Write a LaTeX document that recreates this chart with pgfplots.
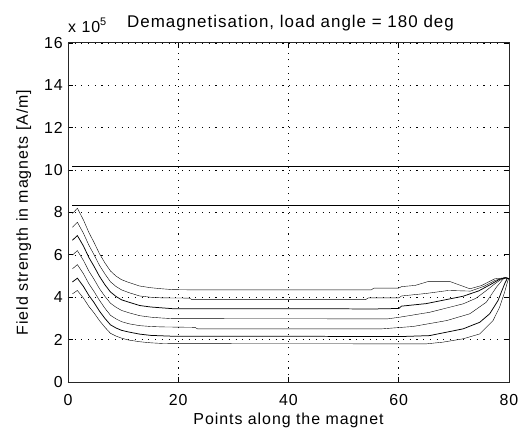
\documentclass[border=0pt]{standalone}
\usepackage{fontspec}
\setmainfont{Liberation Sans}[LetterSpace=6]
\usepackage{pgfplots}
\pgfplotsset{compat=1.18}
\begin{document}
\fontsize{16}{19}\selectfont
\begin{tikzpicture}
\path[use as bounding box] (-68bp,-48bp) rectangle (450bp,382bp);
\begin{axis}[
  at={(0,0)}, anchor=south west,
  width=441bp, height=339bp, scale only axis,
  clip=false,
  xmin=0, xmax=80, ymin=0, ymax=16,
  xtick={0,20,40,60,80}, ytick={0,2,4,6,8,10,12,14,16},
  grid=major,
  major grid style={black, line width=0.6pt, dash pattern=on 1.1bp off 5.6bp},
  tick align=inside, major tick length=5bp,
  axis line style={line width=1pt, black!85},
  every tick/.style={black, line width=0.8pt},
  /pgf/number format/assume math mode=true,
  tick label style={font=\fontsize{16}{19}\selectfont},
  xticklabel style={anchor=base, yshift=-23bp, inner sep=0pt},
  yticklabel style={anchor=east, xshift=-5bp, inner sep=0pt},
  xlabel={Points along the magnet},
  xlabel style={at={(axis description cs:0.5,0)}, anchor=base, yshift=-42bp, inner sep=0pt},
  ylabel={Field strength in magnets [A/m]},
  ylabel style={at={(axis description cs:-0.083,0.5)}, anchor=south, rotate=0, inner sep=0pt},
  title={Demagnetisation, load angle = 180 deg},
  title style={at={(axis description cs:0.5,1)}, anchor=base, yshift=10bp, inner sep=0pt, xshift=2bp, font=\fontsize{17}{20}\selectfont},
  cycle list={{black, line width=0.75pt, mark=none}},
]
\addplot coordinates {(0.8,10.19)(80,10.19)};
\addplot coordinates {(0.8,8.35)(80,8.35)};
\addplot coordinates {(0.8,7.95)(1.7,8.20)(2.8,7.65)(3.8,7.05)(4.7,6.60)(5.7,6.06)(6.7,5.62)(7.7,5.24)(8.7,5.00)(9.7,4.83)(11,4.70)(13,4.53)(15,4.45)(17,4.40)(19,4.36)(22,4.35)(55,4.35)(55.5,4.43)(60,4.43)(60.5,4.50)(63,4.56)(65.3,4.74)(69.3,4.74)(72.9,4.40)(75,4.55)(77.4,4.87)(79.3,4.92)(80,4.88)};
\addplot coordinates {(0.8,7.30)(1.7,7.54)(2.8,7.02)(3.8,6.45)(4.7,6.02)(5.7,5.51)(6.7,5.10)(7.7,4.73)(8.7,4.51)(9.7,4.35)(11,4.22)(13,4.06)(15,4.00)(17,3.97)(22,3.96)(22.5,3.89)(54,3.89)(54.5,3.97)(60,3.97)(60.5,4.06)(65,4.18)(69,4.32)(73,4.29)(75.5,4.52)(77.5,4.80)(79.3,4.92)(80,4.88)};
\addplot coordinates {(0.8,6.69)(1.7,6.91)(2.8,6.42)(3.8,5.87)(4.7,5.47)(5.7,4.99)(6.7,4.59)(7.7,4.25)(8.7,4.04)(9.7,3.88)(11,3.77)(13,3.61)(15,3.54)(17,3.50)(19,3.46)(56,3.45)(60,3.47)(60.5,3.58)(65,3.70)(71.7,4.05)(74.5,4.30)(76.5,4.58)(78.3,4.85)(79.3,4.92)(80,4.88)};
\addplot coordinates {(0.8,5.99)(1.7,6.20)(2.8,5.74)(3.8,5.23)(4.7,4.86)(5.7,4.41)(6.7,4.04)(7.7,3.72)(8.7,3.53)(9.7,3.38)(11,3.27)(13,3.13)(15,3.06)(17,3.02)(19,2.99)(58,2.98)(60.2,3.06)(65.6,3.29)(71.7,3.69)(74,3.95)(75.9,4.32)(77.5,4.65)(78.8,4.88)(79.4,4.92)(80,4.88)};
\addplot coordinates {(0.8,5.34)(1.7,5.54)(2.8,5.11)(3.8,4.63)(4.7,4.28)(5.7,3.86)(6.7,3.48)(7.7,3.15)(8.7,2.98)(9.7,2.85)(11,2.75)(13,2.66)(15,2.62)(17,2.60)(23,2.58)(23.5,2.51)(57,2.51)(62.6,2.62)(68.7,2.90)(72.9,3.22)(75.9,3.77)(77.7,4.47)(78.9,4.85)(79.5,4.92)(80,4.88)};
\addplot coordinates {(0.8,4.72)(1.7,4.90)(2.8,4.51)(3.8,4.08)(4.7,3.76)(5.7,3.35)(6.7,3.00)(7.7,2.70)(8.7,2.55)(9.7,2.44)(11,2.36)(13,2.26)(15,2.20)(17,2.18)(19,2.16)(61,2.15)(65.6,2.19)(71.7,2.51)(74.7,2.82)(76.5,3.22)(78,3.84)(79.2,4.63)(79.7,4.90)(80,4.88)};
\addplot coordinates {(0.8,4.16)(1.7,4.32)(2.8,3.96)(3.8,3.56)(4.7,3.27)(5.7,2.90)(6.7,2.58)(7.7,2.30)(8.7,2.17)(9.7,2.07)(11,1.98)(13,1.90)(15,1.85)(17,1.82)(19,1.81)(65,1.80)(68,1.88)(71.7,2.04)(74.7,2.27)(77.1,2.90)(78.3,3.53)(79.2,4.24)(79.8,4.79)(80,4.88)};
\node[anchor=base west, inner sep=0pt] at ([yshift=10bp]rel axis cs:0,1) {x 10\raisebox{0.45em}{\fontsize{11}{11}\selectfont 5}};
\end{axis}
\end{tikzpicture}
\end{document}
